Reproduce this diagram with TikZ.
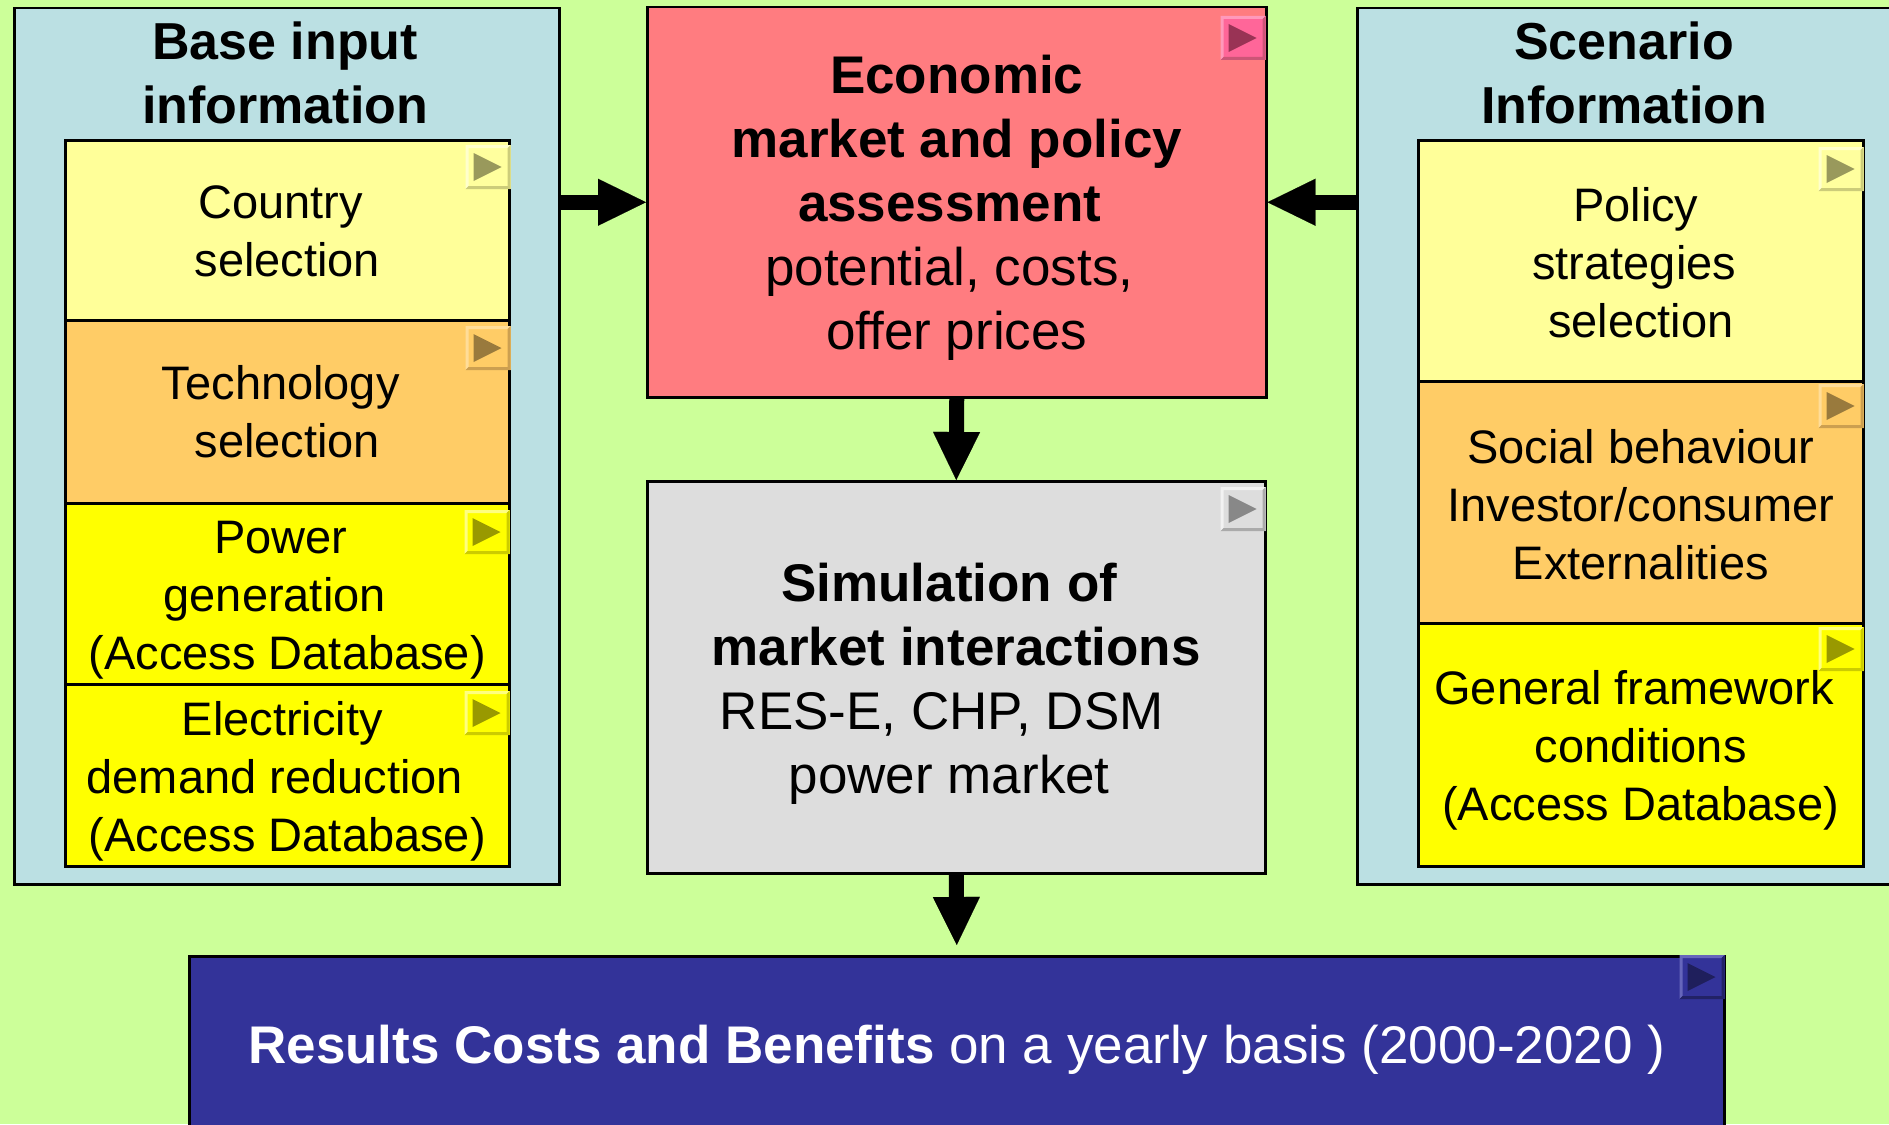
\documentclass[tikz,border=0pt]{standalone}
\usepackage{fontspec}
\setmainfont{Liberation Sans}
\usetikzlibrary{arrows.meta}

\definecolor{bg}{HTML}{CCFF99}
\definecolor{panel}{HTML}{BBE0E3}
\definecolor{redbox}{HTML}{FF7C80}
\definecolor{greybox}{HTML}{DDDDDD}
\definecolor{bluebox}{HTML}{333399}
\definecolor{lightyellow}{HTML}{FFFF99}
\definecolor{orangebox}{HTML}{FFCC66}
\definecolor{yellowbox}{HTML}{FFFF00}
% play button palettes: face, light bevel, dark bevel, triangle
\definecolor{ly-f}{HTML}{FFFF9E}\definecolor{ly-l}{HTML}{FFFFCC}\definecolor{ly-d}{HTML}{CCCC7A}\definecolor{ly-t}{HTML}{99995C}
\definecolor{or-f}{HTML}{FFCC66}\definecolor{or-l}{HTML}{FFDD99}\definecolor{or-d}{HTML}{CC9F50}\definecolor{or-t}{HTML}{997A3D}
\definecolor{yl-f}{HTML}{FFFF00}\definecolor{yl-l}{HTML}{FFFF80}\definecolor{yl-d}{HTML}{CCCC00}\definecolor{yl-t}{HTML}{999900}
\definecolor{rd-f}{HTML}{FF6699}\definecolor{rd-l}{HTML}{FF99BB}\definecolor{rd-d}{HTML}{CC5577}\definecolor{rd-t}{HTML}{993355}
\definecolor{gr-f}{HTML}{DDDDDD}\definecolor{gr-l}{HTML}{F2F2F2}\definecolor{gr-d}{HTML}{AAAAAA}\definecolor{gr-t}{HTML}{888888}
\definecolor{bl-f}{HTML}{333399}\definecolor{bl-l}{HTML}{6666BB}\definecolor{bl-d}{HTML}{222266}\definecolor{bl-t}{HTML}{1F1F5C}

% trailing blank kept at the end of a centred line
\newcommand\tsp[1][.278em]{\hspace*{#1}\mbox{}}

% small beveled "play" button in the top right corner of a box
% #1 box name, #2 gap to right edge, #3 gap to top edge, #4 palette
\newcommand\playbtn[4]{%
  \begin{scope}[shift={(#1.north east)}]
    \fill[#4-f] ({-45-#2},{#3}) rectangle ({-#2},{#3+44});
    \fill[#4-l] ({-45-#2},{#3}) -- ({-#2},{#3}) -- ({-#2-3},{#3+3}) -- ({-42-#2},{#3+3})
                -- ({-42-#2},{#3+41}) -- ({-45-#2},{#3+44}) -- cycle;
    \fill[#4-d] ({-#2},{#3}) -- ({-#2},{#3+44}) -- ({-45-#2},{#3+44}) -- ({-42-#2},{#3+41})
                -- ({-#2-3},{#3+41}) -- ({-#2-3},{#3+3}) -- cycle;
    \fill[#4-t] ({-37-#2},{#3+8}) -- ({-9-#2},{#3+22}) -- ({-37-#2},{#3+36}) -- cycle;
  \end{scope}}

\tikzset{
  box/.style={draw=black, line width=2.5pt, inner sep=0pt, anchor=north west},
  txt/.style={inner sep=0pt, align=center},
  small/.style={txt, font=\fontsize{47pt}{58pt}\selectfont},
  large/.style={txt, font=\fontsize{53pt}{64pt}\selectfont},
  heading/.style={txt, font=\fontsize{52pt}{64pt}\selectfont\bfseries},
  bigarrow/.style={line width=15pt, -{Triangle[length=48pt,width=47pt,line width=0.1pt]}},
}

\begin{document}
\begin{tikzpicture}[x=1pt,y=-1pt]
\useasboundingbox (0,0) rectangle (1889,1124);
\fill[bg] (0,0) rectangle (1889,1124);

% side panels
\node[box, fill=panel, minimum width=545pt, minimum height=876pt] (basepanel) at (13,7) {};
\node[box, fill=panel, minimum width=545pt, minimum height=876pt] (scenpanel) at (1356,7) {};
\node[heading] (basetitle) at (285,73) {Base input\\information};
\node[heading] (scentitle) at (1624,73) {Scenario\\Information};

% base input boxes
\node[box, fill=lightyellow, minimum width=444pt, minimum height=180pt] (country) at (64,139) {};
\node[box, fill=orangebox, minimum width=444pt, minimum height=183pt] (techno) at (64,319) {};
\node[box, fill=yellowbox, minimum width=444pt, minimum height=181pt] (powergen) at (64,502) {};
\node[box, fill=yellowbox, minimum width=444pt, minimum height=182pt] (demand) at (64,683) {};
\node[small] (country-t) at ([yshift=-1pt]country.center) {Country\tsp\\selection};
\node[small] (techno-t) at (techno.center) {Technology\tsp\\selection};
\node[small] (powergen-t) at ([yshift=-6pt]powergen.center)
  {Power\tsp\\generation\tsp[25pt]\\(Access Database)};
\node[small] (demand-t) at ([yshift=-6pt]demand.center)
  {Electricity\tsp[10pt]\\demand reduction\tsp[25pt]\\(Access Database)};

% scenario boxes
\node[box, fill=lightyellow, minimum width=445pt, minimum height=241pt] (policy) at (1417,139) {};
\node[box, fill=orangebox, minimum width=445pt, minimum height=242pt] (social) at (1417,380) {};
\node[box, fill=yellowbox, minimum width=445pt, minimum height=243pt] (framework) at (1417,622) {};
\node[small] (policy-t) at ([yshift=-2pt]policy.center) {Policy\tsp[10pt]\\strategies\tsp\\selection};
\node[small] (social-t) at ([yshift=-2pt]social.center) {Social behaviour\\Investor/consumer\\Externalities};
\node[small] (framework-t) at ([yshift=-6pt]framework.center)
  {General framework\tsp\\conditions\\(Access Database)};

% central boxes
\node[box, fill=redbox, minimum width=619pt, minimum height=390pt] (econ) at (646,6) {};
\node[box, fill=greybox, minimum width=618pt, minimum height=392pt] (sim) at (646,480) {};
\node[box, fill=bluebox, minimum width=1535pt, minimum height=178pt] (results) at (188,955) {};
\node[large] (econ-t) at ([yshift=-6pt]econ.center)
  {\textbf{Economic}\\\textbf{market and policy}\\\textbf{assessment}\tsp[14pt]\\potential, costs,\tsp[15pt]\\offer prices};
\node[large] (sim-t) at ([yshift=-7pt]sim.center)
  {\textbf{Simulation of}\tsp[14pt]\\\textbf{market interactions}\\RES-E, CHP, DSM\tsp[29pt]\\power market\tsp[14pt]};
\node[large, text=white] (results-t) at ([yshift=-5pt]results.center)
  {\textbf{Results Costs and Benefits} on a yearly basis (2000-2020 )};

% play buttons
\playbtn{country}{0}{6}{ly}
\playbtn{techno}{0}{7}{or}
\playbtn{powergen}{1}{8}{yl}
\playbtn{demand}{1}{8}{yl}
\playbtn{policy}{1}{8}{ly}
\playbtn{social}{1}{4}{or}
\playbtn{framework}{1}{5}{yl}
\playbtn{econ}{2}{10}{rd}
\playbtn{sim}{1}{7}{gr}
\playbtn{results}{1}{0}{bl}

% flow arrows
\draw[bigarrow] (basepanel.east |- econ.west) -- (econ.west);
\draw[bigarrow] (scenpanel.west |- econ.east) -- (econ.east);
\draw[bigarrow] (econ.south) -- (sim.north);
\draw[bigarrow] (sim.south) -- ([yshift=10pt]results.north);
\end{tikzpicture}
\end{document}
